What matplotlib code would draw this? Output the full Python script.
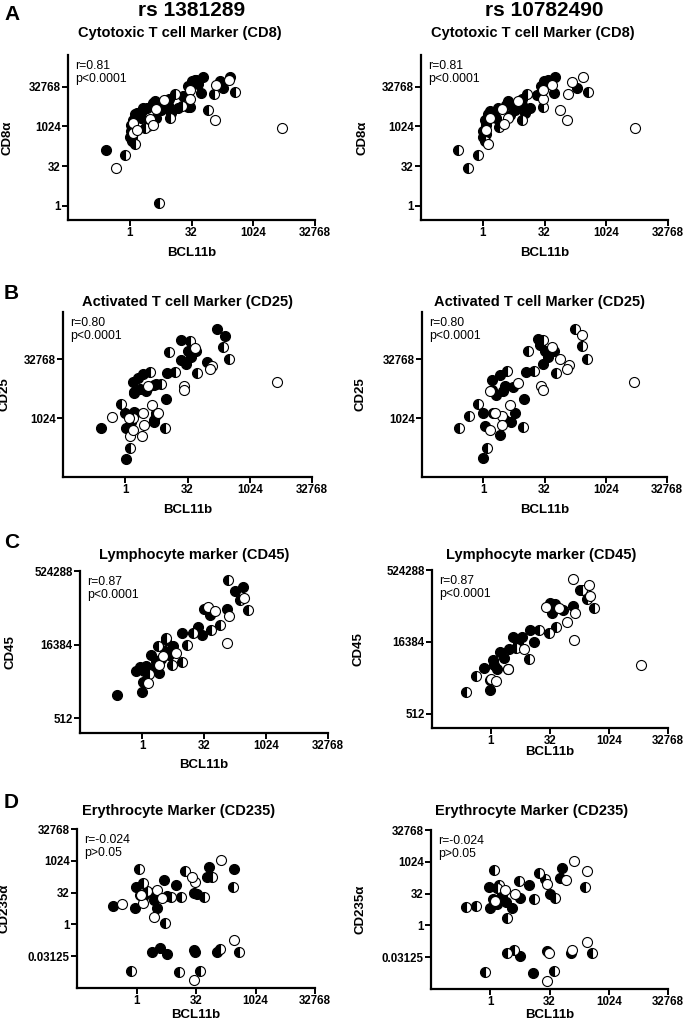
import matplotlib.pyplot as plt
import numpy as np

plt.rcParams['font.family'] = ['Liberation Sans', 'DejaVu Sans']

# values are log2(BCL11b), log2(marker)
# row A - CD8
cd8_rs1_black = [(-1.95, 7.05), (0.27, 10.84), (0.4, 11.5), (0.14, 9.4), (0.0, 8.7), (0.2, 8.1), (0.68, 11.7),
                 (0.95, 11.05), (1.4, 12.3), (2.03, 13.16), (2.57, 12.1), (3.1, 12.74), (3.38, 11.7), (3.9, 12.3),
                 (4.86, 12.45), (4.73, 15.06), (5.0, 15.7), (5.8, 14.2), (5.95, 16.2), (5.54, 15.3), (7.57, 14.85),
                 (8.1, 16.2), (2.16, 11.05), (1.6, 10.8), (0.1, 10.2), (1.0, 11.9), (2.9, 13.0), (5.3, 15.9),
                 (0.56, 11.7), (1.1, 12.3), (1.9, 12.95), (3.2, 13.4), (4.3, 13.8), (5.4, 15.9), (7.3, 15.7),
                 (0.3, 9.6), (2.7, 12.5), (4.7, 12.5), (0.16, 8.7)]
cd8_rs1_half = [(-0.4, 6.37), (0.46, 7.8), (2.38, 0.3), (3.65, 14.13), (6.35, 12.1), (6.8, 14.1), (8.5, 14.3),
                (3.24, 11.05), (1.49, 10.0), (1.2, 9.8), (4.2, 12.6)]
cd8_rs1_open = [(-1.14, 4.73), (12.3, 9.8), (6.9, 10.76), (4.86, 14.64), (4.86, 13.5), (7.0, 15.27), (0.27, 10.4),
                (2.16, 12.2), (1.6, 10.9), (2.78, 13.37), (1.9, 10.2), (0.27, 9.2), (8.0, 15.9), (0.6, 9.6)]

cd8_rs2_black = [(5.86, 16.2), (4.97, 15.7), (5.73, 14.2), (7.6, 14.85), (0.19, 10.84), (0.46, 11.5), (0.05, 9.4),
                 (0.0, 8.7), (0.73, 11.7), (1.27, 12.3), (2.08, 13.16), (2.62, 12.1), (3.16, 12.74), (3.43, 11.7),
                 (3.84, 12.3), (4.73, 15.06), (1.08, 11.05), (0.3, 10.2), (2.2, 11.4), (0.6, 11.9), (1.9, 12.7),
                 (3.2, 13.4), (4.4, 13.9), (5.3, 15.9), (0.25, 9.0), (2.7, 12.6)]
cd8_rs2_half = [(-1.97, 7.05), (-1.16, 4.73), (-0.4, 6.4), (3.57, 14.13), (8.5, 14.3), (4.86, 12.4), (3.16, 10.84),
                (1.3, 9.9), (0.2, 8.2)]
cd8_rs2_open = [(12.35, 9.8), (6.81, 10.76), (6.27, 12.1), (8.08, 16.2), (6.9, 14.1), (5.6, 15.27), (4.86, 13.5),
                (2.84, 13.16), (1.54, 12.2), (2.08, 11.05), (0.6, 11.05), (0.4, 7.8), (4.86, 14.64), (7.2, 15.6),
                (1.7, 10.3), (0.3, 9.5)]

# row B - CD25
cd25_rs1_black = [(-1.97, 9.2), (0.03, 6.5), (-0.05, 10.4), (0.08, 9.15), (0.66, 13.1), (0.74, 12.1), (1.4, 13.7),
                  (0.82, 10.4), (1.68, 12.26), (2.34, 12.8), (2.47, 10.3), (3.27, 11.6), (3.35, 13.8), (4.47, 16.6),
                  (5.0, 15.65), (4.87, 14.6), (5.66, 15.65), (6.6, 14.8), (7.4, 17.6), (8.0, 17.0), (0.48, 9.7),
                  (2.34, 9.86), (1.2, 12.5), (5.3, 15.2), (4.5, 14.9), (1.0, 13.4), (1.8, 12.65), (0.72, 12.2),
                  (0.72, 10.5), (2.3, 9.7), (2.45, 12.9)]
cd25_rs1_half = [(-0.32, 11.19), (0.35, 7.5), (2.02, 13.95), (2.87, 12.9), (3.54, 15.6), (3.99, 13.95), (5.8, 13.8),
                 (7.85, 16.07), (8.32, 15.0), (0.6, 10.0), (3.2, 9.2), (2.5, 10.4), (5.2, 16.5)]
cd25_rs1_open = [(-1.1, 10.1), (0.35, 8.45), (1.36, 8.5), (1.54, 9.44), (1.46, 10.4), (2.15, 11.07), (2.6, 10.4),
                 (4.68, 12.74), (4.73, 12.34), (5.6, 15.93), (6.94, 14.43), (6.78, 14.15), (12.18, 13.02),
                 (1.8, 12.7), (0.6, 9.0), (0.32, 10.0)]

cd25_rs2_black = [(0.0, 6.6), (-0.05, 10.4), (0.14, 9.3), (0.68, 13.25), (1.35, 13.67), (1.6, 12.3), (2.4, 12.6),
                  (3.3, 11.6), (3.5, 13.9), (4.46, 16.7), (5.0, 15.65), (4.86, 14.6), (5.8, 15.65), (1.4, 8.6),
                  (0.81, 10.4), (1.8, 9.8), (2.6, 10.4), (1.0, 12.0), (5.3, 15.2), (1.8, 12.7), (0.75, 12.4),
                  (2.3, 9.7), (4.6, 16.2)]
cd25_rs2_half = [(-1.95, 9.2), (-1.14, 10.2), (-0.4, 11.19), (0.27, 7.5), (1.95, 14.0), (3.65, 15.65), (4.14, 14.0),
                 (5.9, 13.8), (7.5, 17.6), (8.03, 16.13), (8.5, 15.0), (3.24, 9.24), (4.9, 16.6)]
cd25_rs2_open = [(0.54, 9.0), (0.54, 12.26), (1.49, 10.14), (2.16, 11.07), (2.84, 12.97), (1.57, 9.44),
                 (4.73, 12.74), (4.86, 12.4), (5.62, 16.07), (6.3, 15.0), (6.97, 14.52), (6.8, 14.15),
                 (8.05, 17.06), (12.3, 13.1), (0.95, 10.4)]

# row C - CD45
cd45_rs1_black = [(-2.04, 10.56), (0.0, 10.78), (0.1, 11.44), (-0.49, 12.2), (0.33, 12.56), (0.73, 13.33),
                  (1.14, 12.9), (1.41, 12.1), (1.82, 13.56), (2.5, 13.9), (3.26, 14.78), (4.54, 15.2), (4.8, 14.67),
                  (5.0, 16.44), (5.5, 16.0), (6.85, 16.44), (7.53, 17.67), (8.15, 17.9), (1.96, 14.33), (0.2, 12.2),
                  (0.9, 12.4), (2.2, 13.3), (5.3, 16.5), (1.5, 13.0), (-0.2, 12.5)]
cd45_rs1_half = [(6.9, 18.38), (7.93, 17.0), (8.53, 16.38), (1.28, 13.93), (1.9, 14.44), (2.45, 12.64),
                 (3.26, 12.84), (3.6, 13.96), (4.08, 14.82), (6.3, 15.33), (5.6, 15.0), (0.6, 12.0)]
cd45_rs1_open = [(0.46, 11.38), (1.36, 12.6), (2.77, 13.44), (6.85, 14.1), (6.98, 15.93), (8.2, 17.2),
                 (5.35, 16.55), (1.68, 13.2), (5.9, 16.3)]

cd45_rs2_black = [(-0.09, 10.64), (-0.06, 11.35), (-0.58, 12.2), (0.15, 12.7), (0.73, 13.3), (1.89, 14.35),
                  (2.62, 14.35), (3.63, 14.0), (3.28, 14.82), (5.0, 16.7), (5.15, 16.0), (6.1, 16.23), (6.98, 16.46),
                  (7.56, 17.64), (0.29, 12.36), (1.1, 12.9), (1.5, 13.5), (0.5, 12.1), (2.3, 13.9), (5.4, 16.6)]
cd45_rs2_half = [(-2.12, 10.5), (-1.25, 11.65), (3.2, 12.83), (4.07, 14.82), (4.94, 14.63), (7.7, 17.64),
                 (8.14, 16.98), (8.72, 16.35), (5.52, 15.05), (1.45, 12.12), (2.1, 13.6)]
cd45_rs2_open = [(0.0, 11.42), (0.45, 11.3), (1.4, 12.1), (2.76, 13.53), (5.8, 16.35), (6.4, 15.36), (7.1, 16.0),
                 (7.03, 14.12), (6.98, 18.4), (8.28, 17.99), (8.37, 17.2), (12.73, 12.4), (4.7, 16.4)]

# row D - CD235a
cd235_rs1_black = [(-2.0, 2.86), (-0.06, 5.82), (2.34, 7.0), (3.29, 6.24), (4.8, 4.87), (5.09, 4.76), (6.09, 9.0),
                   (5.94, 7.5), (8.2, 8.73), (1.29, -4.34), (1.94, -3.7), (2.57, -4.66), (4.8, -4.0), (4.9, -4.34),
                   (6.8, -4.34), (-0.14, 2.54), (0.57, 4.23), (1.71, 2.65), (1.2, 5.0), (0.3, 4.6), (1.5, 3.8),
                   (2.6, 4.4)]
cd235_rs1_half = [(0.23, 8.73), (0.51, 6.45), (2.43, 0.16), (4.06, 8.36), (5.66, 4.23), (6.34, 7.4), (8.09, 5.93),
                  (7.0, -3.86), (8.63, -4.34), (-0.43, -7.3), (3.57, -7.5), (5.37, -7.25), (3.71, 4.23), (0.9, 5.2),
                  (2.9, 4.3)]
cd235_rs1_open = [(-1.2, 3.17), (1.43, 1.16), (4.91, 6.61), (4.63, 7.4), (7.09, 10.05), (8.23, -2.49),
                  (4.8, -8.68), (1.71, 5.4), (2.14, 4.13), (0.57, 3.44), (0.4, 4.6)]

cd235_rs2_black = [(-0.08, 5.96), (3.25, 6.28), (5.0, 4.89), (6.07, 9.04), (5.85, 7.45), (2.54, 4.26), (1.84, 2.66),
                   (0.0, 2.66), (2.54, -4.79), (4.8, -3.99), (6.78, -4.36), (3.59, -7.55), (0.99, 4.79), (0.2, 4.2),
                   (1.3, 3.7), (0.6, 3.3)]
cd235_rs2_half = [(-2.06, 2.82), (-1.21, 3.08), (0.28, 8.78), (0.7, 6.38), (1.41, 1.17), (2.4, 7.0), (4.1, 8.24),
                  (4.58, 7.34), (5.45, 4.26), (8.0, 5.96), (1.41, -4.41), (1.98, -3.83), (8.56, -4.36),
                  (-0.48, -7.34), (5.37, -7.18), (3.67, 4.15), (0.55, 5.9)]
cd235_rs2_open = [(7.06, 10.1), (8.19, 8.62), (6.41, 7.18), (4.8, 6.49), (6.92, -3.83), (8.19, -2.55),
                  (4.94, -4.36), (4.8, -8.78), (1.27, 5.59), (0.4, 3.8), (2.1, 4.9)]

x_ticks = [1, 32, 1024, 32768]
x_ticklabels = ['1', '32', '1024', '32768']

W, H = 685, 1022
fig = plt.figure(figsize=(W / 100, H / 100), dpi=100)


def add_ax(left, top, right, bottom):
    return fig.add_axes([left / W, 1 - bottom / H, (right - left) / W, (bottom - top) / H])


def panel(ax, black, half, opn, ylim, yticks, ylabels, stats):
    kw = dict(linestyle='none', marker='o', ms=7.2, mec='black', mew=0.8)
    for pts, style in ((black, dict(mfc='black')),
                       (half, dict(mfc='black', fillstyle='left', markerfacecoloralt='white')),
                       (opn, dict(mfc='white'))):
        a = np.array(pts)
        ax.plot(2.0 ** a[:, 0], 2.0 ** a[:, 1], **kw, **style)
    ax.set_xscale('log', base=2)
    ax.set_yscale('log', base=2)
    ax.set_xlim(2.0 ** -5, 2.0 ** 15)
    ax.set_ylim(2.0 ** ylim[0], 2.0 ** ylim[1])
    ax.set_xticks(x_ticks, x_ticklabels)
    ax.set_yticks(yticks, ylabels)
    ax.minorticks_off()
    for s in ['top', 'right']:
        ax.spines[s].set_visible(False)
    for s in ['left', 'bottom']:
        ax.spines[s].set_linewidth(1.6)
    ax.tick_params(length=4, width=1.4, pad=1.2, labelsize=8.3)
    for lab in ax.get_xticklabels() + ax.get_yticklabels():
        lab.set_fontweight('bold')
    ax.text(0.03, 0.97, stats, transform=ax.transAxes, ha='left', va='top', fontsize=8.8, linespacing=1.15)


rows = [
    dict(data=[(cd8_rs1_black, cd8_rs1_half, cd8_rs1_open), (cd8_rs2_black, cd8_rs2_half, cd8_rs2_open)],
         boxes=[(68, 55, 315, 220), (421, 55, 668, 220)], ylim=(-1.8, 19),
         yticks=[1, 32, 1024, 32768], ylabels=['1', '32', '1024', '32768'],
         title='Cytotoxic T cell Marker (CD8)', title_y=33, tx=[180, 533], ylab='CD8α', stats='r=0.81\np<0.0001',
         xlab_y=[253, 253], letter='A', letter_y=15),
    dict(data=[(cd25_rs1_black, cd25_rs1_half, cd25_rs1_open), (cd25_rs2_black, cd25_rs2_half, cd25_rs2_open)],
         boxes=[(63, 312, 312, 477), (422, 312, 667, 477)], ylim=(5, 19),
         yticks=[1024, 32768], ylabels=['1024', '32768'],
         title='Activated T cell Marker (CD25)', title_y=302, tx=[188, 540], ylab='CD25', stats='r=0.80\np<0.0001',
         xlab_y=[510, 510], letter='B', letter_y=293),
    dict(data=[(cd45_rs1_black, cd45_rs1_half, cd45_rs1_open), (cd45_rs2_black, cd45_rs2_half, cd45_rs2_open)],
         boxes=[(80, 571, 328, 733), (432, 570, 668, 728)], ylim=(8, 19),
         yticks=[512, 16384, 524288], ylabels=['512', '16384', '524288'],
         title='Lymphocyte marker (CD45)', title_y=555, tx=[194, 541], ylab='CD45', stats='r=0.87\np<0.0001',
         xlab_y=[765, 752], letter='C', letter_y=542),
    dict(data=[(cd235_rs1_black, cd235_rs1_half, cd235_rs1_open), (cd235_rs2_black, cd235_rs2_half, cd235_rs2_open)],
         boxes=[(77, 829, 315, 988), (431, 830, 668, 989)], ylim=(-10, 15),
         yticks=[0.03125, 1, 32, 1024, 32768], ylabels=['0.03125', '1', '32', '1024', '32768'],
         title='Erythrocyte Marker (CD235)', title_y=811, tx=[179, 532], ylab='CD235α', stats='r=-0.024\np>0.05',
         xlab_y=[1015, 1015], letter='D', letter_y=802),
]

ylab_x = [[8, 363], [5, 361], [10, 359], [5, 360]]

for r, row in enumerate(rows):
    for c in range(2):
        ax = add_ax(*row['boxes'][c])
        panel(ax, *row['data'][c], row['ylim'], row['yticks'], row['ylabels'], row['stats'])
        fig.text(row['tx'][c] / W, 1 - row['title_y'] / H, row['title'], ha='center', va='center',
                 fontsize=10.5, fontweight='bold')
        b = row['boxes'][c]
        fig.text((b[0] + b[2]) / 2 / W, 1 - row['xlab_y'][c] / H, 'BCL11b', ha='center', va='center',
                 fontsize=9.5, fontweight='bold')
        fig.text(ylab_x[r][c] / W, 1 - (b[1] + b[3]) / 2 / H, row['ylab'], ha='center', va='center',
                 rotation=90, fontsize=9.5, fontweight='bold')
    fig.text(4 / W, 1 - row['letter_y'] / H, row['letter'], ha='left', va='center', fontsize=15, fontweight='bold')

fig.text(192 / W, 1 - 11 / H, 'rs 1381289', ha='center', va='center', fontsize=15, fontweight='bold')
fig.text(544 / W, 1 - 11 / H, 'rs 10782490', ha='center', va='center', fontsize=15, fontweight='bold')

fig.savefig('out.png', dpi=100)
